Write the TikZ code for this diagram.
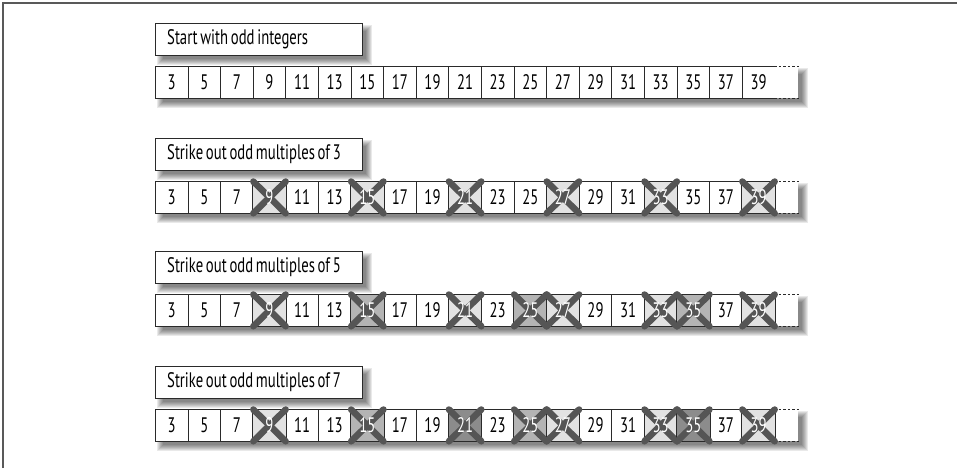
\documentclass[tikz,border=0pt]{standalone}
\usepackage{fontspec}
\setmainfont{PT Sans}[FakeStretch=0.7,WordSpace=0.7]
\definecolor{xgray}{HTML}{555555}
\definecolor{lightc}{HTML}{E2E2E2}
\definecolor{medc}{HTML}{B4B4B4}
\definecolor{darkc}{HTML}{8C8C8C}
\definecolor{bordc}{HTML}{2A2A2A}
\newcommand\mkshadow[4]{%
  \foreach \k in {0,...,6}{%
    \fill[black,opacity=0.085] (#1+6-4+\k,#2+6-4+\k) rectangle (#3+6+4-\k,#4+6+4-\k);}}
\tikzset{
  txtfont/.style={font=\fontsize{21}{24}\selectfont},
  cell/.style={draw=bordc,line width=0.8pt,fill=white,minimum width=32.6pt,minimum height=32pt,
    inner sep=0pt,anchor=north west,txtfont},
  labelbox/.style={draw=bordc,line width=0.8pt,fill=white,minimum width=207pt,minimum height=32pt,
    inner sep=0pt,anchor=north west},
  labeltext/.style={inner sep=0pt,anchor=west,txtfont},
  xmark/.style={draw=xgray,line width=6.5pt,line cap=round},
  dotedge/.style={draw=bordc,line width=0.8pt,dash pattern=on 2.5pt off 2pt},
  frameline/.style={draw=black!65,line width=1.5pt}
}
\begin{document}
\begin{tikzpicture}[x=1pt,y=-1pt]
\useasboundingbox (0,0) rectangle (957,468);
\draw[frameline] (3,468) -- (3,3) -- (957,3);
\foreach \r/\ty/\txt in {1/66/Start with odd integers,2/181/Strike out odd multiples of 3,3/294/Strike out odd multiples of 5,4/409/Strike out odd multiples of 7}{
  \mkshadow{155}{\ty-43}{362}{\ty-11}
  \node[labelbox] (lab\r) at (155,\ty-43) {};
  \node[labeltext] (labt\r) at ([xshift=12pt]lab\r.west) {\txt};
  \mkshadow{155}{\ty}{798}{\ty+32}
  \foreach \n [evaluate=\n as \i using {(\n-3)/2}] in {3,5,...,39}{
    \node[cell] (c\r-\n) at (155+\i*32.6,\ty) {\n};
  }
  \fill[white] (774,\ty) rectangle (798,\ty+32);
  \coordinate (d\r a) at (774.4,\ty);
  \coordinate (d\r b) at (799,\ty);
  \coordinate (d\r c) at (774.4,\ty+32);
  \coordinate (d\r d) at (799,\ty+32);
  \draw[dotedge] (d\r a) -- (d\r b) (d\r c) -- (d\r d);
}
% struck cells
\foreach \r/\n/\col in {2/9/lightc,2/15/lightc,2/21/lightc,2/27/lightc,2/33/lightc,2/39/lightc,
  3/9/lightc,3/15/medc,3/21/lightc,3/25/medc,3/27/lightc,3/33/lightc,3/35/medc,3/39/lightc,
  4/9/lightc,4/15/medc,4/21/darkc,4/25/medc,4/27/lightc,4/33/lightc,4/35/darkc,4/39/lightc}{
  \fill[\col] (c\r-\n.north west) rectangle (c\r-\n.south east);
  \draw[bordc,line width=0.8pt] (c\r-\n.north west) rectangle (c\r-\n.south east);
  \draw[xmark] ([shift={(0.5,0.5)}]c\r-\n.north west) -- ([shift={(-0.5,-0.5)}]c\r-\n.south east)
               ([shift={(-0.5,0.5)}]c\r-\n.north east) -- ([shift={(0.5,-0.5)}]c\r-\n.south west);
  \node[txtfont,text=white,inner sep=0pt] at (c\r-\n) {\n};
}
\end{tikzpicture}
\end{document}
